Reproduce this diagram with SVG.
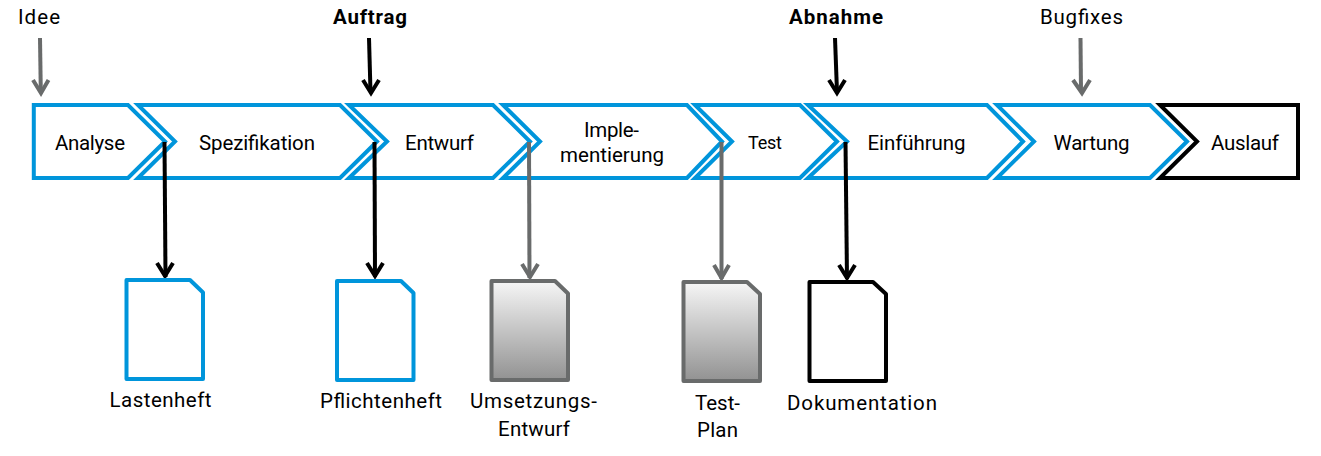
<svg xmlns="http://www.w3.org/2000/svg" width="1321" height="456" viewBox="0 0 1321 456">
<style>
text{font-family:"Roboto","Liberation Sans",sans-serif;font-size:20.5px;fill:#000;text-anchor:middle}
.b{font-weight:700}
.c{fill:#fff;stroke:#0095db;stroke-width:4;stroke-linejoin:miter}
.c.k{stroke:#000;stroke-width:4}
.d{fill:#fff;stroke:#0095db;stroke-width:4;stroke-linejoin:round}
.d.g{stroke:#696b6b;stroke-width:4}
.d.k{stroke:#000;stroke-width:4}
.lk,.lg{fill:none;stroke-width:4;stroke:#000}
.lg{stroke:#696b6b}
.hk,.hg{fill:none;stroke-width:4;stroke:#000;stroke-linejoin:miter}
.hg{stroke:#696b6b}
</style>
<defs>
<linearGradient id="gr" x1="0" y1="0" x2="0" y2="1"><stop offset="0" stop-color="#f6f6f6"/><stop offset="1" stop-color="#929292"/></linearGradient>
</defs>
<g id="connectors">
<path class="lg" d="M40 38L40.800 92"/><path class="hg" d="M33 80L41 93L48.500 80"/>
<path class="lk" d="M369 38L370.500 92"/><path class="hk" d="M363 80L371 93L379 80"/>
<path class="lk" d="M835 38L837 92"/><path class="hk" d="M829 80L837 93L845 80"/>
<path class="lg" d="M1080.500 38L1081 92"/><path class="hg" d="M1073 80L1082 93L1090 80"/>
</g>
<g id="analyse"><path class="c" d="M33.800 105H128L165 141.500L128 178H33.800Z"/><text x="90" y="149.500" textLength="70">Analyse</text></g>
<g id="spezifikation"><path class="c" d="M138 105H340L377 141.500L340 178H138L175 141.500Z"/><text x="257" y="149.500" textLength="116">Spezifikation</text></g>
<g id="entwurf"><path class="c" d="M349 105H493L530 141.500L493 178H349L387 141.500Z"/><text x="439.500" y="149.500" textLength="69">Entwurf</text></g>
<g id="implementierung"><path class="c" d="M503 105H687L722 141.500L687 178H503L540 141.500Z"/><text x="611.500" y="137" textLength="55">Imple-</text><text x="612" y="161.500" textLength="104">mentierung</text></g>
<g id="test"><path class="c" d="M695 105H800L837 141.500L800 178H695L732 141.500Z"/><text x="765" y="148.500" style="font-size:18px" textLength="34">Test</text></g>
<g id="einfuehrung"><path class="c" d="M808 105H987L1023 141.500L987 178H808L847 141.500Z"/><text x="916.500" y="149.500" textLength="98">Einführung</text></g>
<g id="wartung"><path class="c" d="M997 105H1150L1187 141.500L1150 178H997L1034 141.500Z"/><text x="1091.500" y="149.500" textLength="76">Wartung</text></g>
<g id="auslauf"><path class="c k" d="M1160 105H1298V178H1160L1197 141.500Z"/><text x="1245" y="149.500" textLength="68">Auslauf</text></g>
<g id="connectors-down">
<path class="lk" d="M164.500 142L165.500 277"/><path class="hk" d="M157 263L165 276L173 263"/>
<path class="lk" d="M374.500 142L375 277"/><path class="hk" d="M367 263L375 276L383 263"/>
<path class="lg" d="M529 142L529.500 278"/><path class="hg" d="M522 264L530 277L538 264"/>
<path class="lg" d="M721.500 142L721.500 279"/><path class="hg" d="M714 265L721.500 278L729 265"/>
<path class="lk" d="M845.500 142L847 279"/><path class="hk" d="M839 265L847 278L855 265"/>
</g>
<g id="lastenheft"><path class="d" d="M126.500 280H190L203 292.500V379H126.500Z"/><text x="160.500" y="407" textLength="102">Lastenheft</text></g>
<g id="pflichtenheft"><path class="d" d="M337 281H401L413.500 293V380H337Z"/><text x="381" y="408" textLength="122">Pflichtenheft</text></g>
<g id="umsetzungsentwurf"><path class="d g" style="fill:url(#gr)" d="M491.500 281H555L568 293.500V380H491.500Z"/><text x="533.500" y="408" textLength="127">Umsetzungs-</text><text x="534" y="435.500" textLength="72">Entwurf</text></g>
<g id="testplan"><path class="d g" style="fill:url(#gr)" d="M683.500 282H747L760 294V381H683.500Z"/><text x="717.500" y="409.500" textLength="45">Test-</text><text x="717.500" y="437" textLength="41">Plan</text></g>
<g id="dokumentation"><path class="d k" d="M809.500 282H873L886 294V381H809.500Z"/><text x="862" y="409.500" textLength="150">Dokumentation</text></g>
<g id="labels">
<text x="39" y="24" textLength="42">Idee</text>
<text class="b" x="370" y="23.500" textLength="74">Auftrag</text>
<text class="b" x="836" y="23.500" textLength="94">Abnahme</text>
<text x="1081.500" y="24" textLength="83">Bugfixes</text>
</g>
</svg>
